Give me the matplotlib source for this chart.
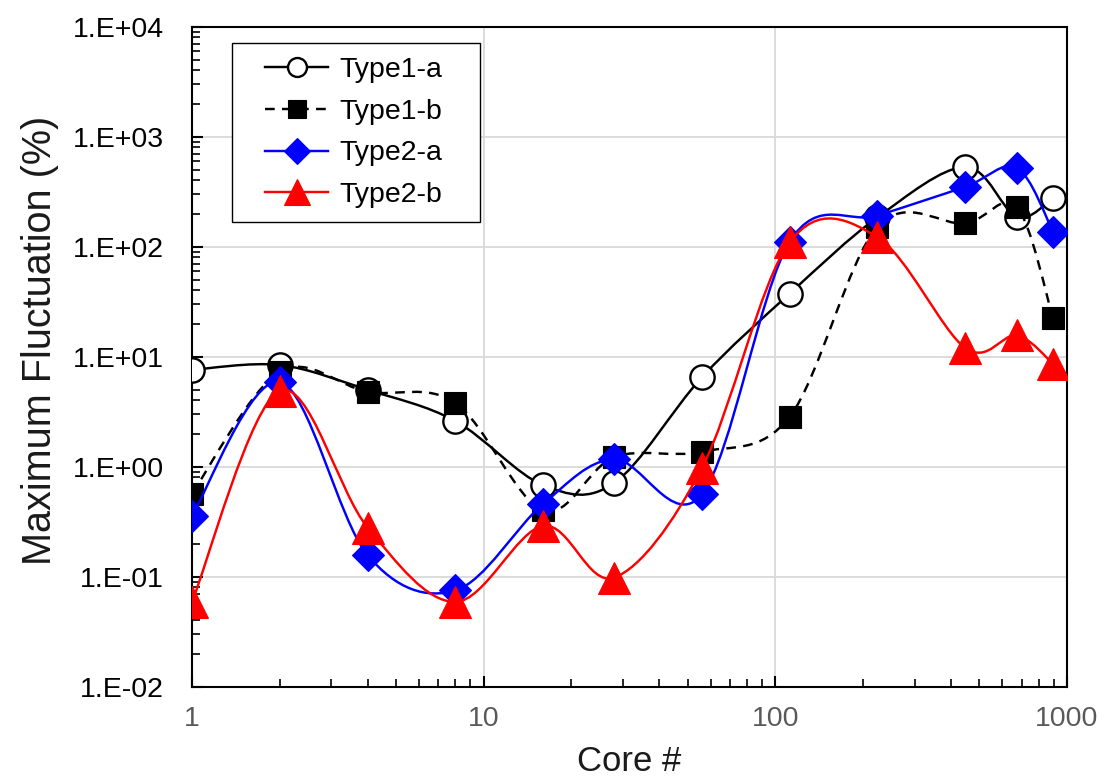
import numpy as np
import matplotlib
matplotlib.use('Agg')
import matplotlib.pyplot as plt
from matplotlib.path import Path
from matplotlib.patches import PathPatch
from matplotlib.lines import Line2D
from matplotlib.legend_handler import HandlerLine2D
from matplotlib.ticker import FuncFormatter, LogLocator, NullFormatter

plt.rcParams['font.family'] = ['Liberation Sans', 'DejaVu Sans']

# данные
cores = [1, 2, 4, 8, 16, 28, 56, 112, 224, 448, 672, 896]
type1_a = [7.6, 8.4, 5.0, 2.6, 0.68, 0.71, 6.5, 37.5, 185, 530, 187, 278]
type1_b = [0.57, 7.3, 4.8, 3.8, 0.40, 1.22, 1.37, 2.85, 152, 163, 231, 22.3]
type2_a = [0.36, 5.9, 0.157, 0.075, 0.46, 1.17, 0.56, 111, 192, 351, 523, 137]
type2_b = [0.059, 4.9, 0.28, 0.059, 0.29, 0.098, 0.97, 110, 122, 12.0, 15.6, 8.6]
labels = ['Type1-a', 'Type1-b', 'Type2-a', 'Type2-b']


def smooth_path(x, y):
    # сглаженная линия как в Excel: кривые Безье по Catmull-Rom в лог-пространстве
    lx = np.log10(np.asarray(x, float))
    ly = np.log10(np.asarray(y, float))
    p = np.column_stack([lx, ly])
    n = len(p)
    verts = [p[0]]
    codes = [Path.MOVETO]
    for i in range(n - 1):
        p0 = p[i - 1] if i > 0 else p[i]
        p1 = p[i]
        p2 = p[i + 1]
        p3 = p[i + 2] if i + 2 < n else p[i + 1]
        c1 = p1 + (p2 - p0) / 6.0
        c2 = p2 - (p3 - p1) / 6.0
        verts += [c1, c2, p2]
        codes += [Path.CURVE4] * 3
    verts = 10 ** np.array(verts)
    return Path(verts, codes)


def legend_box(x0, y0, width, height, mutation_size):
    # рамка легенды с дополнительным отступом справа
    x1 = x0 + width + 0.85 * mutation_size
    y1 = y0 + height
    return Path([(x0, y0), (x1, y0), (x1, y1), (x0, y1), (x0, y0)],
                [Path.MOVETO, Path.LINETO, Path.LINETO, Path.LINETO, Path.CLOSEPOLY])


styles = [
    dict(color='black', ls='-', marker='o', ms=17.5, mfc='white', mec='black', mew=1.7),
    dict(color='black', ls=(0, (4, 3)), marker='s', ms=16.5, mfc='black', mec='black', mew=0.8),
    dict(color='#0000ff', ls='-', marker='D', ms=16.5, mfc='#0000ff', mec='#0000ff', mew=0.8),
    dict(color='#ff0000', ls='-', marker='^', ms=23.5, mfc='#ff0000', mec='#ff0000', mew=0.8),
]
series = [type1_a, type1_b, type2_a, type2_b]

fig = plt.figure(figsize=(11.04, 7.79), dpi=100)
ax = fig.add_axes([0.1739, 0.1185, 0.7926, 0.8472])
ax.set_xscale('log')
ax.set_yscale('log')

handles = []
for k, (vals, st) in enumerate(zip(series, styles)):
    patch = PathPatch(smooth_path(cores, vals), fill=False, edgecolor=st['color'],
                      linestyle=st['ls'], linewidth=1.75, zorder=3 + 2 * k, capstyle='butt')
    ax.add_patch(patch)
    ax.plot(cores, vals, linestyle='none', marker=st['marker'], ms=st['ms'],
            mfc=st['mfc'], mec=st['mec'], mew=st['mew'], zorder=4 + 2 * k)
    handles.append(Line2D([], [], color=st['color'], linestyle=st['ls'], linewidth=1.75,
                          marker=st['marker'], ms=st['ms'], mfc=st['mfc'],
                          mec=st['mec'], mew=st['mew']))

ax.set_xlim(1, 1000)
ax.set_ylim(1e-2, 1e4)

ax.xaxis.set_major_locator(LogLocator(base=10, numticks=10))
ax.xaxis.set_minor_locator(LogLocator(base=10, subs=np.arange(2, 10), numticks=20))
ax.yaxis.set_major_locator(LogLocator(base=10, numticks=10))
ax.yaxis.set_minor_locator(LogLocator(base=10, subs=np.arange(2, 10), numticks=20))
ax.xaxis.set_major_formatter(FuncFormatter(lambda v, pos: '%d' % round(v)))
ax.yaxis.set_major_formatter(FuncFormatter(lambda v, pos: '1.E%+03d' % round(np.log10(v))))
ax.xaxis.set_minor_formatter(NullFormatter())
ax.yaxis.set_minor_formatter(NullFormatter())

ax.grid(True, which='major', color='#d9d9d9', linewidth=1.3)
ax.set_axisbelow(True)
ax.tick_params(which='major', direction='in', length=8, width=1.5)
ax.tick_params(which='minor', direction='in', length=6, width=1.2)
ax.tick_params(axis='y', which='major', labelsize=20.5, pad=20, labelcolor='black')
ax.tick_params(axis='x', which='major', labelsize=20.5, pad=14, labelcolor='#595959')
for s in ax.spines.values():
    s.set_linewidth(1.5)
    s.set_color('black')

ax.set_xlabel('Core #', fontsize=25, color='#1a1a1a')
ax.set_ylabel('Maximum Fluctuation (%)', fontsize=28.5, color='#1a1a1a')
ax.xaxis.set_label_coords(0.5, -0.088)
ax.yaxis.set_label_coords(-0.152, 0.525)

leg = ax.legend(handles, labels, loc='upper left', bbox_to_anchor=(0.0457, 0.975),
                borderaxespad=0, fontsize=20.5, fancybox=False, framealpha=1,
                edgecolor='black', borderpad=0.47, labelspacing=0.56,
                handlelength=2.91, handletextpad=0.4, markerscale=0.78,
                handler_map={h: HandlerLine2D(xpad=0.69, numpoints=1) for h in handles})
leg.get_frame().set_linewidth(1.0)
leg.get_frame().set_boxstyle(legend_box)
leg.set_zorder(20)

plt.savefig('out.png', dpi=100)
